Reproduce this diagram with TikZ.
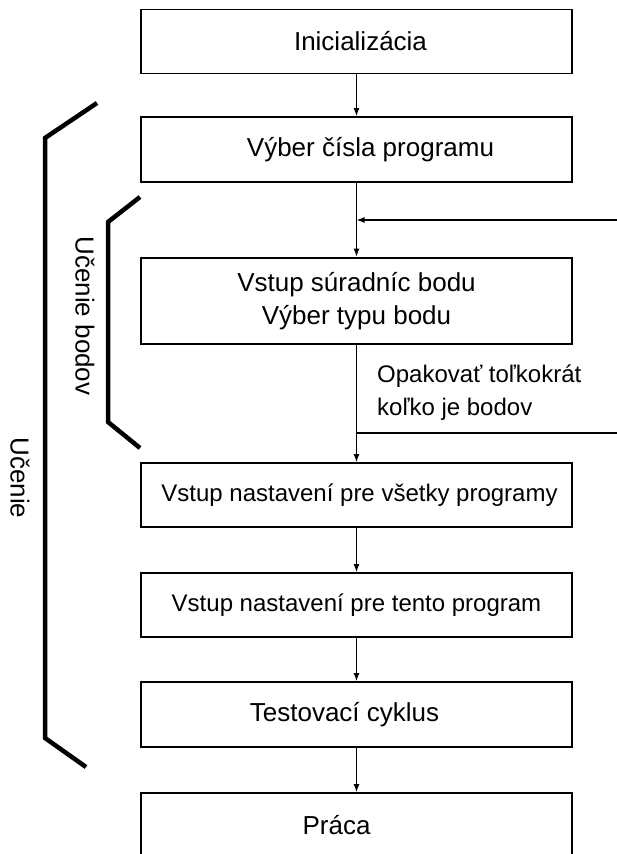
\documentclass[tikz,border=0pt]{standalone}
\usepackage{fontspec}
\setmainfont{Liberation Sans}
\usepackage{xcolor}
\usepackage{tikz}
\usetikzlibrary{arrows.meta,positioning}

\tikzset{
  krok/.style={draw, line width=1.6pt, minimum width=431pt, minimum height=64pt, inner sep=0pt, font=\fontsize{26}{30}\selectfont},
  krokmaly/.style={krok, font=\fontsize{24}{28}\selectfont},
  zatvorka/.style={line width=4.5pt},
  sipka/.style={line width=1.4pt, -{Latex[length=8pt,width=6pt]}}
}

\begin{document}
\begin{tikzpicture}[x=1pt,y=-1pt]
                    \useasboundingbox (0,0) rectangle (617,854);
                    \node[krok] (init) at (356.5,41.5) {\hspace*{8pt}Inicializácia};
                    \node[krok, minimum height=65pt] (prog) at (356.5,149.5) {\hspace*{28pt}Výber čísla programu};
                    \node[krok, line width=2.6pt, minimum height=86pt, align=center, font=\fontsize{26}{33}\selectfont] (bod) at (356.5,301) {Vstup súradníc bodu\\Výber typu bodu};
                    \node[krokmaly] (vsetky) at (356.5,495) {\hspace*{6pt}Vstup nastavení pre všetky programy};
                    \node[krokmaly] (tento) at (356.5,605) {Vstup nastavení pre tento program};
                    \node[krok, minimum height=65pt] (test) at (356.5,714.5) {Testovací cyklus\hspace*{24pt}};
                    \node[krok] (praca) at (356.5,825) {Práca\hspace*{40pt}};

                    \coordinate (spatVstup) at (617,220);
                    \coordinate (spatVystup) at (617,433);
                    \node[anchor=north west, inner sep=0pt, align=left, font=\fontsize{24}{33}\selectfont] (opak) at (377,365) {Opakovať toľkokrát\\koľko je bodov};

                    \node[rotate=-90, font=\fontsize{26}{30}\selectfont] (ucenieBodov) at (85,316) {Učenie bodov};
                    \node[rotate=-90, font=\fontsize{26}{30}\selectfont] (ucenie) at (20,478) {Učenie};

                    \draw[sipka] (init) -- (prog);
                    \draw[sipka] (prog) -- (bod);
                    \draw[sipka] (bod) -- (vsetky);
                    \draw[sipka] (vsetky) -- (tento);
                    \draw[sipka] (tento) -- (test);
                    \draw[sipka] (test) -- (praca);
                    \draw[sipka] (spatVstup) -- (spatVstup -| prog.south);
                    \draw[line width=1.4pt] (spatVystup -| bod.south) -- (spatVystup);

                    \draw[zatvorka] (97,103) -- (45,138) -- (45,738) -- (86,767);
                    \draw[zatvorka] (140,197) -- (108,222) -- (108,422) -- (140,448);
                \end{tikzpicture}
\end{document}
